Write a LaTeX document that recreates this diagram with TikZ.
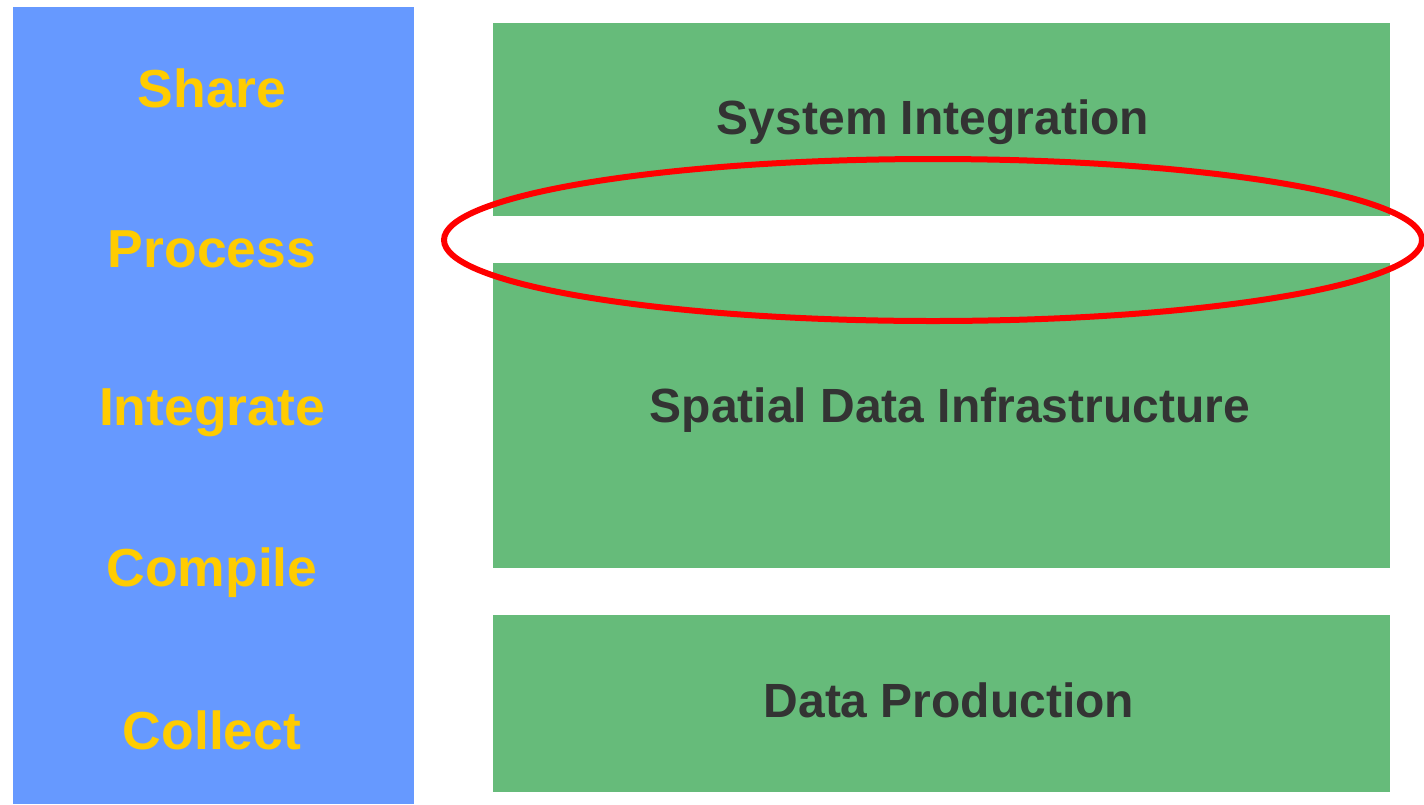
\documentclass[tikz,border=0pt]{standalone}
\usepackage{fontspec}
\setmainfont{Liberation Sans}
\definecolor{bluebar}{HTML}{6699FF}
\definecolor{greenbox}{HTML}{66BB7A}
\definecolor{yellowtxt}{HTML}{FFCC00}
\definecolor{darktxt}{HTML}{333333}
\begin{document}
\begin{tikzpicture}[x=1pt,y=-1pt,
  stage/.style={font=\bfseries\fontsize{53.5}{60}\selectfont, text=yellowtxt},
  layer/.style={font=\bfseries\fontsize{48}{56}\selectfont, text=darktxt}]
\useasboundingbox (0,0) rectangle (1424,804);
\fill[white] (0,0) rectangle (1424,804);
\fill[bluebar] (13,7) rectangle (414,804);
\fill[greenbox] (493,23) rectangle (1390,216);
\fill[greenbox] (493,263) rectangle (1390,568);
\fill[greenbox] (493,615) rectangle (1390,792);
\node[stage] (share) at (212,88) {Share};
\node[stage] (process) at (212,249) {Process};
\node[stage] (integrate) at (212,413) {Integrate};
\node[stage] (compile) at (212,573) {Compile};
\node[stage] (collect) at (212,730) {Collect};
\node[layer] (sys) at (933,122) {System Integration};
\node[layer] (sdi) at (950,410) {Spatial Data Infrastructure};
\node[layer] (dp) at (949,700) {Data Production};
\draw[red, line width=6pt] (933,240) ellipse [x radius=489, y radius=81];
\end{tikzpicture}
\end{document}
